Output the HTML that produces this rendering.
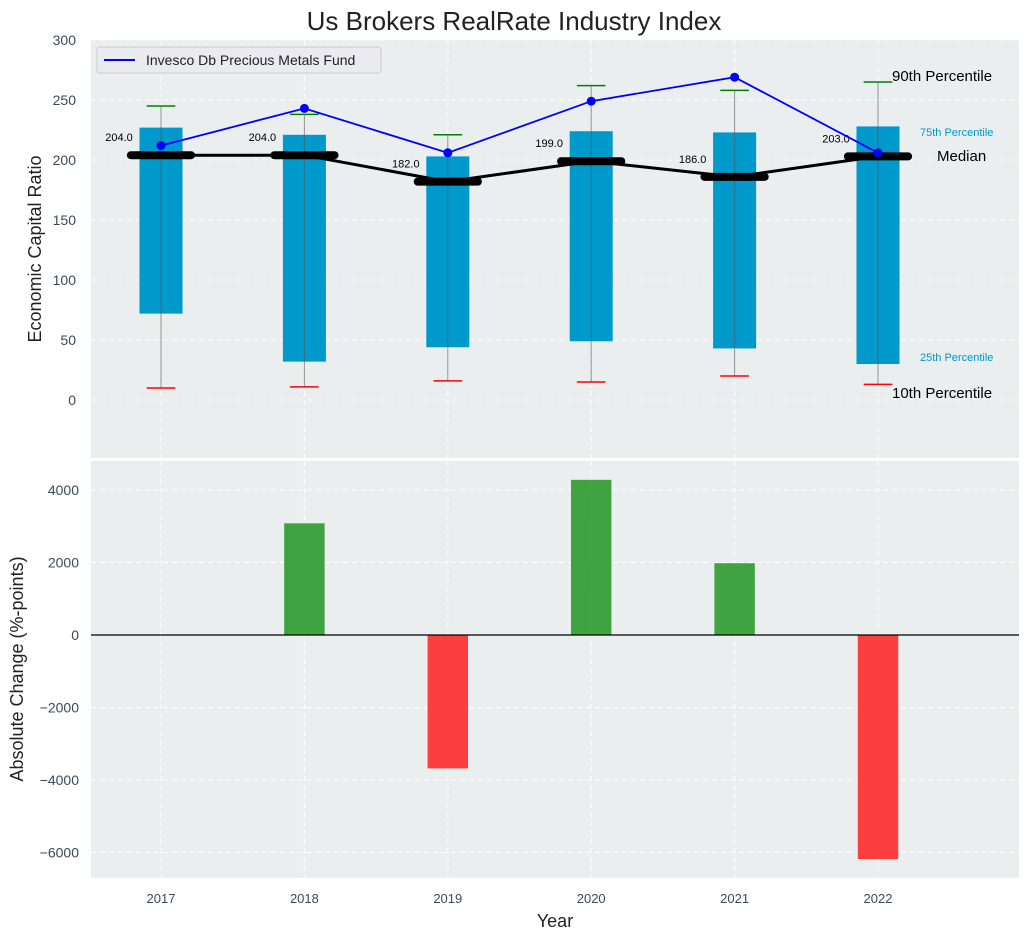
<!DOCTYPE html>
<html><head><meta charset="utf-8"><style>
body{margin:0;background:#fff;font-family:"Liberation Sans",sans-serif}
svg text{font-family:"Liberation Sans",sans-serif}
</style></head><body>
<svg id="c" width="1029" height="940" xmlns="http://www.w3.org/2000/svg"></svg>
<script>
const years=["2017","2018","2019","2020","2021","2022"];
const p10=[10,11,16,15,20,13];
const p25=[72,32,44,49,43,30];
const medians=[204,204,182,199,186,203];
const p75=[227,221,203,224,223,228];
const p90=[245,238,221,262,258,265];
const fund=[212,243,206,249,269,206];
const changes=[0,3080,-3680,4280,1980,-6180];
const topTicks=[0,50,100,150,200,250,300];
const botTicks=[-6000,-4000,-2000,0,2000,4000];

const svg=document.getElementById('c');
const NS='http://www.w3.org/2000/svg';
function mk(t,a,p){const e=document.createElementNS(NS,t);for(const k in a)e.setAttribute(k,a[k]);(p||svg).appendChild(e);return e;}
const X0=91,X1=1019;
const step=143.4;
const x=i=>161+i*step;
const T0=40,T1=458,B0=461,B1=878;
const yT=v=>T0+(300-v)/(300+48.3)*(T1-T0);
const yB=v=>B0+(4800-v)/(4800+6703)*(B1-B0);
const fmt=v=>String(v).replace('-','\u2212');

let e=mk('rect',{x:X0,y:T0,width:X1-X0,height:T1-T0,fill:'#eaeeee'});

e=mk('rect',{x:X0,y:B0,width:X1-X0,height:B1-B0,fill:'#eaeeee'});


years.forEach((y,i)=>{
 mk('line',{x1:x(i),x2:x(i),y1:T0,y2:T1,stroke:'#fff','stroke-dasharray':'5,4','stroke-width':1});
 mk('line',{x1:x(i),x2:x(i),y1:B0,y2:B1,stroke:'#fff','stroke-dasharray':'5,4','stroke-width':1});
 e=mk('text',{x:x(i),y:903,'text-anchor':'middle','font-size':13,fill:'#3a4a5e'});e.textContent=y;
 
});
topTicks.forEach(v=>{
 mk('line',{x1:X0,x2:X1,y1:yT(v),y2:yT(v),stroke:'#fff','stroke-dasharray':'5,4'});
 e=mk('text',{x:76,y:yT(v)+5,'text-anchor':'end','font-size':14,fill:'#3a4a5e'});e.textContent=fmt(v);
 
});
botTicks.forEach(v=>{
 mk('line',{x1:X0,x2:X1,y1:yB(v),y2:yB(v),stroke:'#fff','stroke-dasharray':'5,4'});
 e=mk('text',{x:79,y:yB(v)+5,'text-anchor':'end','font-size':14,fill:'#3a4a5e'});e.textContent=fmt(v);
 
});

const bw=0.3*step, mw=0.42*step, cw=0.2*step;
years.forEach((y,i)=>{
 e=mk('rect',{x:x(i)-bw/2,y:yT(p75[i]),width:bw,height:yT(p25[i])-yT(p75[i]),fill:'#0099cc'});
 
 e=mk('line',{x1:x(i),x2:x(i),y1:yT(p90[i]),y2:yT(p10[i]),stroke:'#555','stroke-width':1,opacity:0.6});
 
 e=mk('line',{x1:x(i)-cw/2,x2:x(i)+cw/2,y1:yT(p90[i]),y2:yT(p90[i]),stroke:'green','stroke-width':1.5});
 
 e=mk('line',{x1:x(i)-cw/2,x2:x(i)+cw/2,y1:yT(p10[i]),y2:yT(p10[i]),stroke:'red','stroke-width':1.5});
 
 const c=changes[i];
 if(c!==0){e=mk('rect',{x:x(i)-bw*0.47,y:Math.min(yB(c),yB(0)),width:bw*0.94,height:Math.abs(yB(c)-yB(0)),fill:c>0?'#2e9a2e':'#ff2a2a',opacity:0.9});
 }
});
e=mk('polyline',{points:medians.map((m,i)=>x(i)+','+yT(m)).join(' '),fill:'none',stroke:'#000','stroke-width':3});

years.forEach((y,i)=>{
 e=mk('line',{x1:x(i)-mw/2,x2:x(i)+mw/2,y1:yT(medians[i]),y2:yT(medians[i]),stroke:'#000','stroke-width':8,'stroke-linecap':'round'});
 
 e=mk('text',{x:x(i)-42,y:yT(medians[i])-14,'text-anchor':'middle','font-size':11,fill:'#000'});e.textContent=medians[i].toFixed(1);
 
});
e=mk('polyline',{points:fund.map((m,i)=>x(i)+','+yT(m)).join(' '),fill:'none',stroke:'#0000ff','stroke-width':1.8});

fund.forEach((m,i)=>{e=mk('circle',{cx:x(i),cy:yT(m),r:4.5,fill:'#0000ff'});
 });
e=mk('line',{x1:X0,x2:X1,y1:yB(0),y2:yB(0),stroke:'#000','stroke-width':1.2});


function txt(s,xx,yy,sz,col,name,anchor){const t=mk('text',{x:xx,y:yy,'font-size':sz,fill:col,'text-anchor':anchor||'start'});t.textContent=s;
 return t;}
txt('90th Percentile',892,81,15,'#000','p90-annotation');
txt('75th Percentile',920,136,11,'#0099cc','p75-annotation');
txt('Median',937,161,15,'#000','median-annotation');
txt('25th Percentile',920,361,11,'#0099cc','p25-annotation');
txt('10th Percentile',892,398,15,'#000','p10-annotation');
txt('Us Brokers RealRate Industry Index',514,30,26,'#222','chart-title','middle');
txt('Year',555,927,18,'#222','x-axis-title','middle');
let t=txt('Economic Capital Ratio',0,0,18,'#222','top-y-axis-title','middle');t.setAttribute('transform','translate(41,249) rotate(-90)');
t=txt('Absolute Change (%-points)',0,0,18,'#222','bottom-y-axis-title','middle');t.setAttribute('transform','translate(23,669) rotate(-90)');

const lg=mk('g',{});
mk('rect',{x:97,y:47,width:284,height:26,rx:3,fill:'#eaeaf0',stroke:'#ccc'},lg);
mk('line',{x1:104,x2:135,y1:60,y2:60,stroke:'#0000ff','stroke-width':2},lg);
t=mk('text',{x:146,y:65,'font-size':14,fill:'#222'},lg);t.textContent='Invesco Db Precious Metals Fund';

</script>
</body></html>
